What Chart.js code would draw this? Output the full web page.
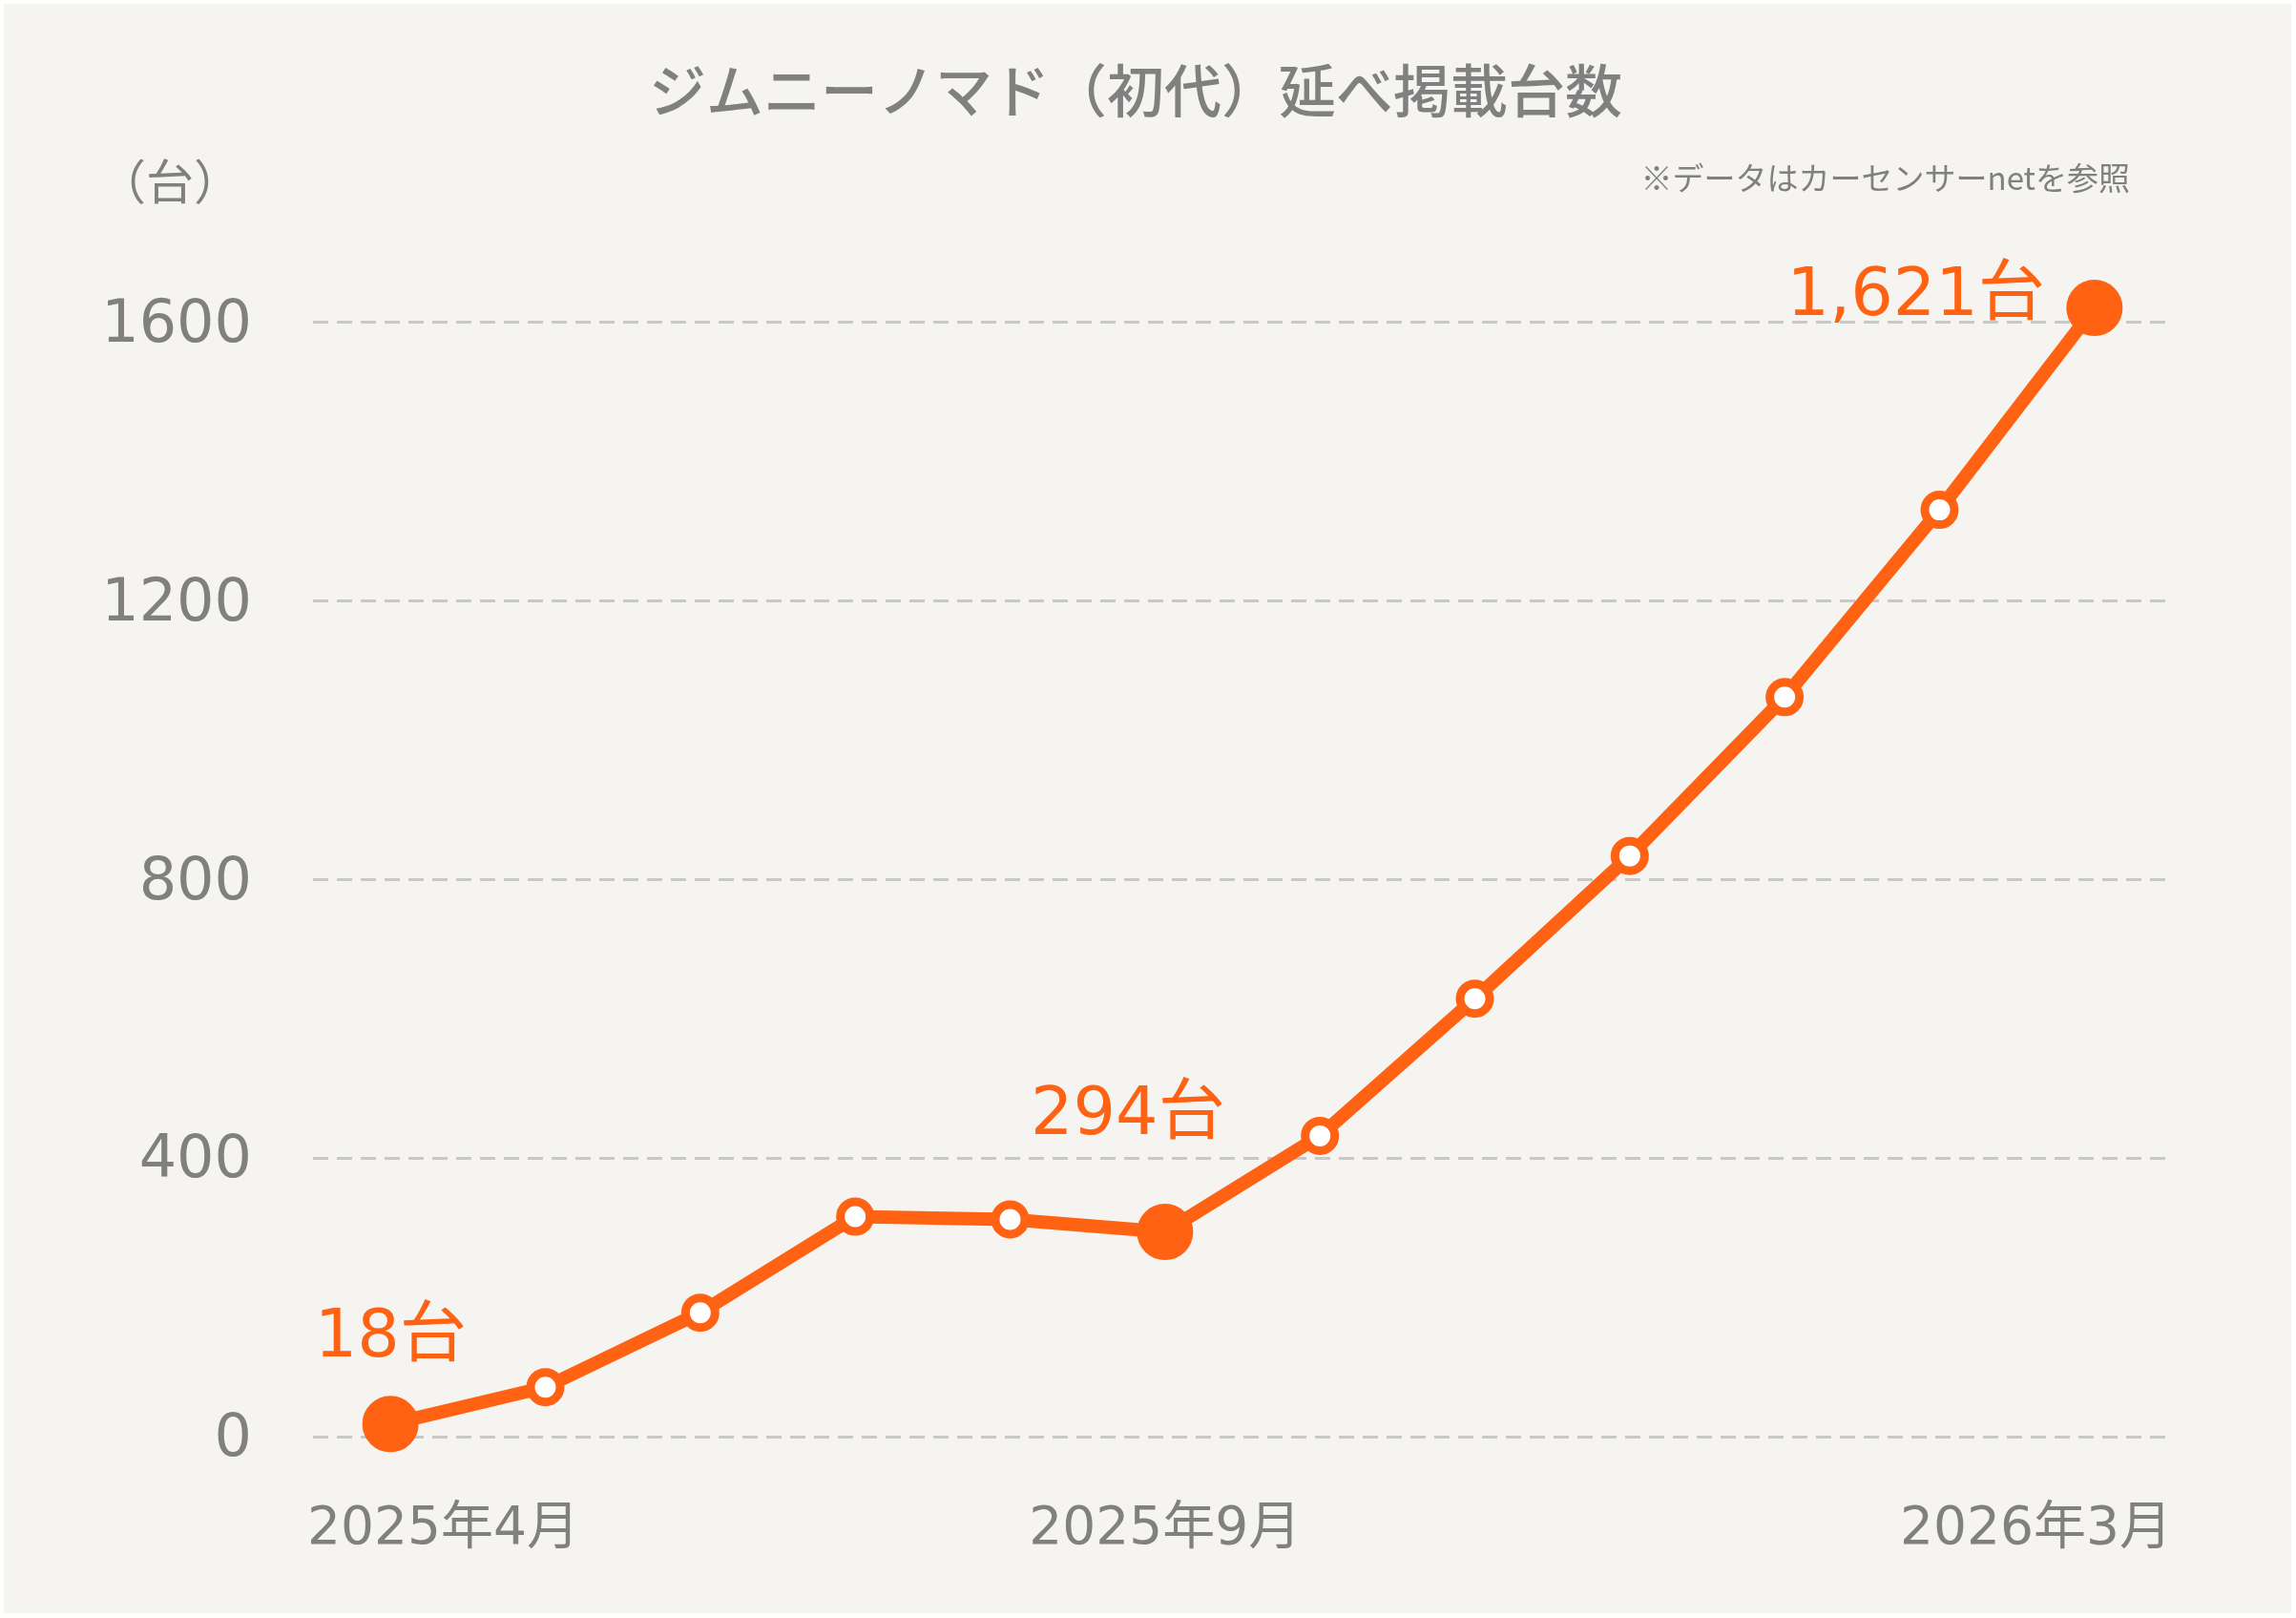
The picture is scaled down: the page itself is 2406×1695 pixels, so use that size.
<!DOCTYPE html>
<html><head><meta charset="utf-8">
<script src="https://cdn.jsdelivr.net/npm/chart.js@4.4.1/dist/chart.umd.min.js"></script>
<style>html,body{margin:0;padding:0;background:#ffffff;}canvas{display:block;}</style>
</head><body>
<canvas id="c" width="2406" height="1695"></canvas>
<script>
const months = ['2025年4月','2025年5月','2025年6月','2025年7月','2025年8月','2025年9月','2025年10月','2025年11月','2025年12月','2026年1月','2026年2月','2026年3月'];
const counts = [18, 71, 178, 316, 312, 294, 432, 629, 834, 1062, 1331, 1621];
const yTicks = [0, 400, 800, 1200, 1600];
const shownMonthLabels = [0, 5, 11];
const highlighted = [0, 5, 11];
const titleText = 'ジムニーノマド（初代）延べ掲載台数';
const unitText = '（台）';
const noteText = '※データはカーセンサーnetを参照';

const ORANGE = '#ff6213';
const GRAY = '#808080';
const FONT = '"DejaVu Sans", "Noto Sans CJK JP", sans-serif';
const JFONT = '"Noto Sans CJK JP", "Noto Sans", sans-serif';

const textPlugin = {
  id: 'texts',
  beforeDraw(chart) {
    const ctx = chart.ctx;
    ctx.save();
    ctx.fillStyle = '#ffffff';
    ctx.fillRect(0, 0, chart.width, chart.height);
    ctx.fillStyle = '#f5f4f0';
    ctx.fillRect(4, 4, chart.width - 9, chart.height - 9);
    ctx.restore();
  },
  afterDraw(chart) {
    const ctx = chart.ctx;
    const xs = chart.scales.x;
    const area = chart.chartArea;
    ctx.save();
    ctx.textBaseline = 'middle';
    // title
    ctx.fillStyle = GRAY;
    ctx.font = '500 60px ' + JFONT;
    ctx.textAlign = 'center';
    ctx.fillText(titleText, 1190, 95);
    // unit
    ctx.font = '50px ' + JFONT;
    ctx.fillText(unitText, 178, 190);
    // note
    ctx.font = '33px ' + JFONT;
    ctx.textAlign = 'right';
    ctx.fillText(noteText, 2232, 186);
    // x labels
    ctx.textBaseline = 'alphabetic';
    ctx.font = '55px ' + FONT;
    shownMonthLabels.forEach(i => {
      if (i === 0) { ctx.textAlign = 'left'; ctx.fillText(months[i], area.left - 6, 1617); }
      else if (i === months.length - 1) { ctx.textAlign = 'right'; ctx.fillText(months[i], area.right, 1617); }
      else { ctx.textAlign = 'center'; ctx.fillText(months[i], xs.getPixelForValue(i), 1617); }
    });
    // data labels
    ctx.fillStyle = ORANGE;
    ctx.font = '70px ' + FONT;
    const meta = chart.getDatasetMeta(0);
    highlighted.forEach(i => {
      const p = meta.data[i];
      const txt = counts[i].toLocaleString('en-US') + '台';
      if (i === 0) { ctx.textAlign = 'center'; ctx.fillText(txt, p.x, p.y - 71); }
      else if (i === months.length - 1) { ctx.textAlign = 'right'; ctx.fillText(txt, p.x - 52, p.y + 7); }
      else { ctx.textAlign = 'center'; ctx.fillText(txt, p.x - 39, p.y - 103); }
    });
    ctx.restore();
  }
};

new Chart(document.getElementById('c'), {
  type: 'line',
  data: {
    labels: months,
    datasets: [{
      data: counts,
      borderColor: ORANGE,
      borderWidth: 14,
      tension: 0,
      clip: false,
      pointRadius: ctx => highlighted.includes(ctx.dataIndex) ? 28 : 15.5,
      pointBorderWidth: ctx => highlighted.includes(ctx.dataIndex) ? 3 : 9,
      pointBackgroundColor: ctx => highlighted.includes(ctx.dataIndex) ? ORANGE : '#ffffff',
      pointBorderColor: ORANGE,
      pointHoverRadius: ctx => highlighted.includes(ctx.dataIndex) ? 28 : 15.5
    }]
  },
  options: {
    responsive: false,
    animation: false,
    devicePixelRatio: 1,
    layout: { padding: { left: 0, right: 130, top: 192, bottom: 190 } },
    plugins: { legend: { display: false }, tooltip: { enabled: false }, title: { display: false } },
    scales: {
      x: {
        type: 'category',
        offset: true,
        display: false,
        grid: { display: false }
      },
      y: {
        min: 0,
        max: 1800,
        afterBuildTicks: s => { s.ticks = yTicks.map(v => ({ value: v })); },
        afterFit: s => { s.width = 328; },
        border: { display: false, dash: [16, 9] },
        grid: { color: '#c8c8c8', lineWidth: 3, drawTicks: false, borderDash: [16, 9] },
        ticks: { color: GRAY, font: { family: FONT, size: 62 }, padding: 64, labelOffset: 4, callback: v => String(v) }
      }
    }
  },
  plugins: [textPlugin]
});
</script>
</body></html>
